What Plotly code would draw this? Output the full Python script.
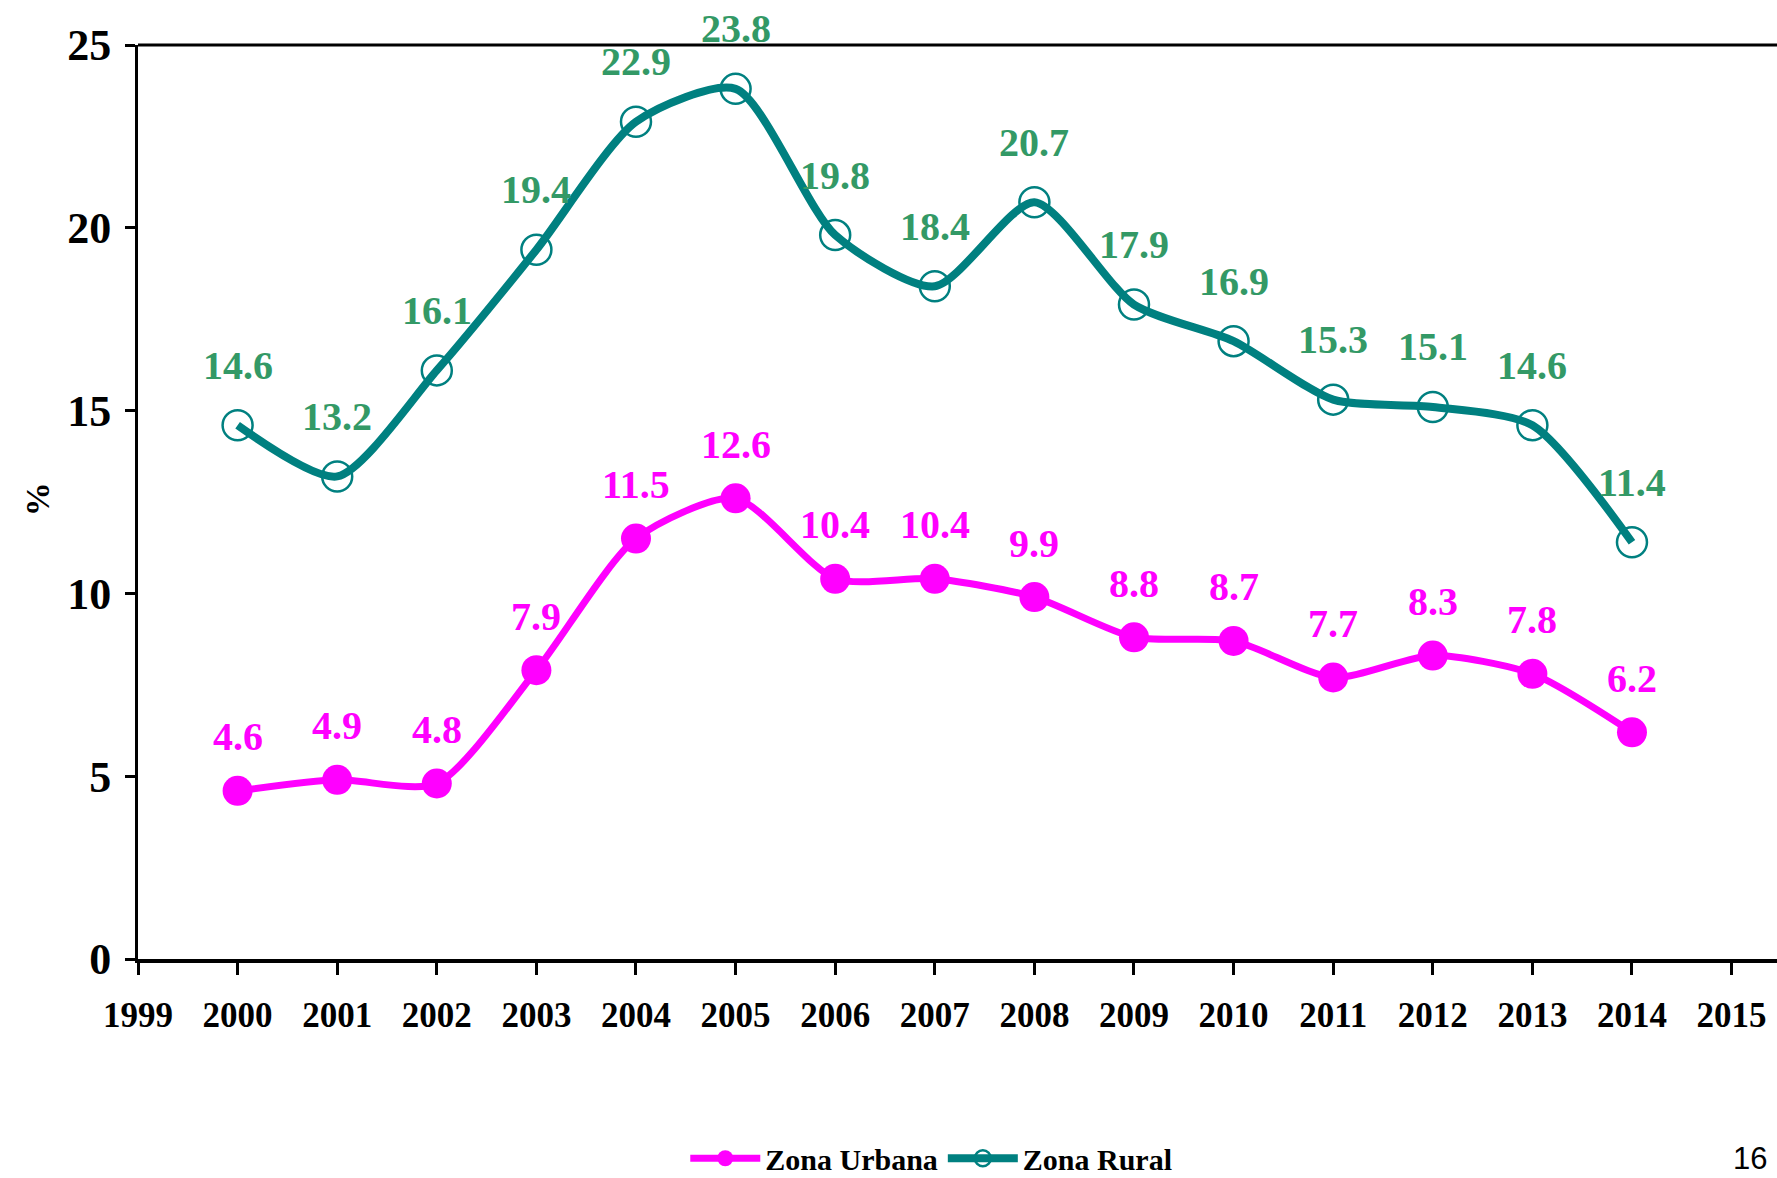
import plotly.graph_objects as go

years = [2000, 2001, 2002, 2003, 2004, 2005, 2006, 2007, 2008, 2009, 2010, 2011, 2012, 2013, 2014]
urbana = [4.6, 4.9, 4.8, 7.9, 11.5, 12.6, 10.4, 10.4, 9.9, 8.8, 8.7, 7.7, 8.3, 7.8, 6.2]
rural = [14.6, 13.2, 16.1, 19.4, 22.9, 23.8, 19.8, 18.4, 20.7, 17.9, 16.9, 15.3, 15.1, 14.6, 11.4]
x_ticks = list(range(1999, 2016))
y_ticks = [0, 5, 10, 15, 20, 25]

SERIF = "Liberation Serif, Times New Roman, serif"
MAGENTA = "#FF00FF"
TEAL = "#008080"
GREEN_LBL = "#339966"

fig = go.Figure()
fig.add_trace(go.Scatter(
    x=years, y=urbana, name="<b>Zona Urbana</b>", mode="lines+markers",
    line=dict(color=MAGENTA, width=7, shape="spline", smoothing=0.7),
    marker=dict(symbol="circle", size=30, color=MAGENTA),
))
fig.add_trace(go.Scatter(
    x=years, y=rural, name="<b>Zona Rural</b>", mode="lines+markers",
    line=dict(color=TEAL, width=8, shape="spline", smoothing=0.7),
    marker=dict(symbol="circle-open", size=30, color=TEAL, line=dict(width=2.5, color=TEAL)),
))

annotations = []
for x, v in zip(years, urbana):
    annotations.append(dict(x=x, y=v, text=f"<b>{v:.1f}</b>", showarrow=False, yshift=54,
                            font=dict(family=SERIF, size=40, color=MAGENTA)))
for x, v in zip(years, rural):
    annotations.append(dict(x=x, y=v, text=f"<b>{v:.1f}</b>", showarrow=False, yshift=60,
                            font=dict(family=SERIF, size=40, color=GREEN_LBL)))
annotations.append(dict(xref="paper", yref="paper", x=1.0, y=-0.218, xanchor="right", yanchor="middle",
                        text="16", showarrow=False, xshift=-8,
                        font=dict(family="Liberation Sans, Arial, sans-serif", size=31, color="black")))
# y-axis title "%"
annotations.append(dict(xref="paper", yref="paper", x=-0.0616, y=0.503, xanchor="center", yanchor="middle",
                        text="<b>%</b>", textangle=-90, showarrow=False,
                        font=dict(family=SERIF, size=34, color="black")))

fig.update_layout(
    width=1777, height=1178,
    margin=dict(l=138, r=0, t=45, b=219, autoexpand=False),
    paper_bgcolor="white", plot_bgcolor="white",
    showlegend=True,
    legend=dict(orientation="h", x=0.484, y=-0.218, xanchor="center", yanchor="middle",
                font=dict(family=SERIF, size=30, color="black"), itemwidth=70,
                bgcolor="rgba(0,0,0,0)", traceorder="normal"),
    annotations=annotations,
    xaxis=dict(range=[1999, 2015.456], tickmode="array", tickvals=x_ticks,
               ticktext=[f"<b>{t}</b>" for t in x_ticks],
               ticks="outside", ticklen=12, tickwidth=2.5, tickcolor="black",
               ticklabelstandoff=10, automargin=False,
               showline=True, linecolor="black", linewidth=4, mirror=False,
               showgrid=False, zeroline=False,
               tickfont=dict(family=SERIF, size=35, color="black")),
    yaxis=dict(range=[0, 25], tickmode="array", tickvals=y_ticks,
               ticktext=[f"<b>{t}</b>" for t in y_ticks],
               ticks="outside", ticklen=10, tickwidth=2.5, tickcolor="black",
               ticklabelstandoff=5, automargin=False,
               showline=True, linecolor="black", linewidth=3, mirror=False,
               showgrid=False, zeroline=False,
               tickfont=dict(family=SERIF, size=44, color="black")),
)
# top border line
fig.add_shape(type="line", xref="paper", yref="paper", x0=0, x1=1, y0=1, y1=1,
              line=dict(color="black", width=3))

fig.write_html("out.html", config={"displayModeBar": False},
               post_script="document.body.style.margin='0px';document.body.style.overflow='hidden';")
